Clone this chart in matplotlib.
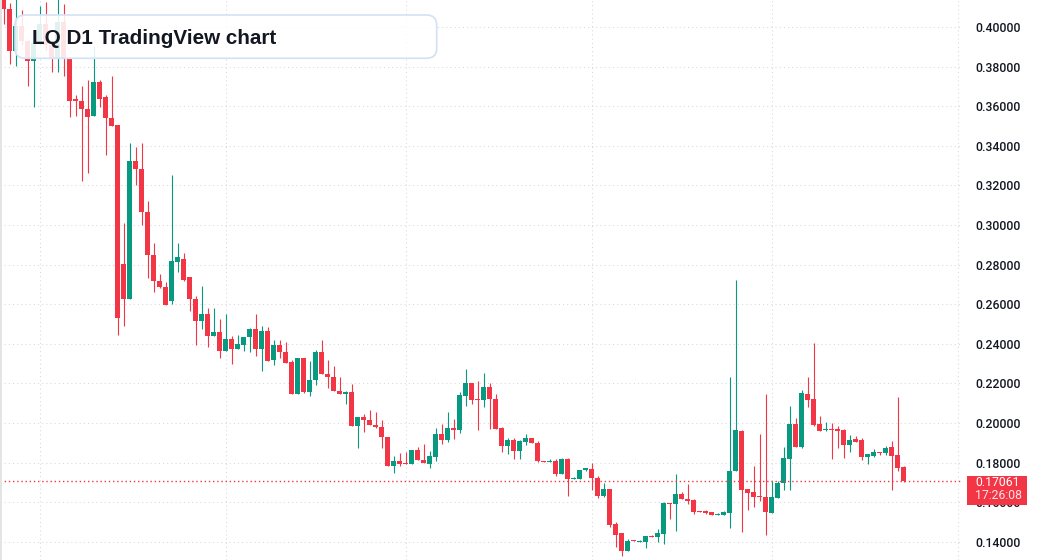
import numpy as np
import matplotlib
matplotlib.use("Agg")
import matplotlib.pyplot as plt
from matplotlib.patches import FancyBboxPatch, Rectangle
from matplotlib.transforms import IdentityTransform

plt.rcParams['font.family'] = ['Liberation Sans', 'DejaVu Sans']

# daily OHLC, oldest first
opens = [0.4160, 0.4090, 0.3880, 0.4005, 0.3930, 0.3829, 0.3917, 0.4015, 0.3909, 0.3843,
         0.4026, 0.3842, 0.3634, 0.3628, 0.3587, 0.3548, 0.3723, 0.3646, 0.3542, 0.3505,
         0.2803, 0.2627, 0.3323, 0.3281, 0.3067, 0.2850, 0.2718, 0.2688, 0.2617, 0.2813,
         0.2828, 0.2737, 0.2626, 0.2516, 0.2550, 0.2440, 0.2459, 0.2365, 0.2424, 0.2375,
         0.2395, 0.2434, 0.2474, 0.2375, 0.2464, 0.2319, 0.2394, 0.2360, 0.2308, 0.2148,
         0.2328, 0.2158, 0.2217, 0.2358, 0.2249, 0.2232, 0.2163, 0.2148, 0.2156, 0.1986,
         0.2031, 0.2016, 0.1991, 0.1981, 0.1930, 0.1784, 0.1808, 0.1794, 0.1790, 0.1865,
         0.1814, 0.1794, 0.1829, 0.1944, 0.1915, 0.1974, 0.1966, 0.2136, 0.2202, 0.2121,
         0.2116, 0.2181, 0.2122, 0.1973, 0.1885, 0.1915, 0.1860, 0.1905, 0.1924, 0.1900,
         0.1809, 0.1804, 0.1809, 0.1744, 0.1819, 0.1718, 0.1718, 0.1764, 0.1769, 0.1723,
         0.1632, 0.1666, 0.1489, 0.1444, 0.1355, 0.1409, 0.1400, 0.1400, 0.1429, 0.1425,
         0.1441, 0.1597, 0.1592, 0.1643, 0.1617, 0.1612, 0.1557, 0.1554, 0.1552, 0.1535,
         0.1535, 0.1545, 0.1757, 0.1959, 0.1666, 0.1651, 0.1631, 0.1626, 0.1545, 0.1621,
         0.1697, 0.1818, 0.1995, 0.1878, 0.2146, 0.2121, 0.1995, 0.1964, 0.1969, 0.1969,
         0.1964, 0.1888, 0.1919, 0.1914, 0.1828, 0.1833, 0.1853, 0.1848, 0.1878, 0.1838,
         0.1777]
highs = [0.4185, 0.4119, 0.4150, 0.4085, 0.3935, 0.3919, 0.4106, 0.4127, 0.3934, 0.4150,
         0.4116, 0.3845, 0.3656, 0.3702, 0.3732, 0.3904, 0.3732, 0.3656, 0.3752, 0.3505,
         0.3011, 0.3412, 0.3392, 0.3412, 0.3121, 0.2907, 0.2752, 0.2712, 0.3252, 0.2907,
         0.2857, 0.2737, 0.2641, 0.2691, 0.2580, 0.2580, 0.2525, 0.2550, 0.2439, 0.2444,
         0.2434, 0.2479, 0.2550, 0.2489, 0.2484, 0.2419, 0.2419, 0.2409, 0.2318, 0.2328,
         0.2328, 0.2313, 0.2368, 0.2419, 0.2318, 0.2287, 0.2232, 0.2159, 0.2198, 0.2031,
         0.2045, 0.2065, 0.2055, 0.2016, 0.1930, 0.1834, 0.1847, 0.1855, 0.1865, 0.1880,
         0.1894, 0.1860, 0.1974, 0.1996, 0.2055, 0.2020, 0.2156, 0.2272, 0.2202, 0.2212,
         0.2252, 0.2202, 0.2146, 0.1978, 0.1925, 0.1925, 0.1915, 0.1944, 0.1924, 0.1910,
         0.1809, 0.1819, 0.1819, 0.1824, 0.1824, 0.1728, 0.1764, 0.1769, 0.1799, 0.1733,
         0.1697, 0.1666, 0.1500, 0.1444, 0.1415, 0.1409, 0.1410, 0.1429, 0.1435, 0.1464,
         0.1601, 0.1597, 0.1742, 0.1653, 0.1691, 0.1617, 0.1557, 0.1560, 0.1552, 0.1545,
         0.1555, 0.2233, 0.2722, 0.1964, 0.1666, 0.1782, 0.1944, 0.2146, 0.1707, 0.1707,
         0.1878, 0.2085, 0.2025, 0.2166, 0.2233, 0.2404, 0.2035, 0.2005, 0.2000, 0.1984,
         0.1969, 0.1939, 0.1934, 0.1924, 0.1843, 0.1868, 0.1853, 0.1883, 0.1909, 0.2131,
         0.1782]
lows = [0.4015, 0.3813, 0.3804, 0.3909, 0.3702, 0.3594, 0.3909, 0.3883, 0.3774, 0.3774,
        0.3752, 0.3547, 0.3550, 0.3223, 0.3264, 0.3548, 0.3596, 0.3353, 0.3500, 0.2444,
        0.2491, 0.2627, 0.3202, 0.3000, 0.2733, 0.2663, 0.2683, 0.2597, 0.2602, 0.2764,
        0.2717, 0.2567, 0.2394, 0.2476, 0.2385, 0.2440, 0.2329, 0.2365, 0.2299, 0.2375,
        0.2365, 0.2360, 0.2339, 0.2264, 0.2314, 0.2294, 0.2329, 0.2304, 0.2148, 0.2148,
        0.2153, 0.2137, 0.2193, 0.2249, 0.2178, 0.2163, 0.2148, 0.2097, 0.1986, 0.1875,
        0.1956, 0.1991, 0.1976, 0.1875, 0.1784, 0.1749, 0.1784, 0.1790, 0.1790, 0.1814,
        0.1799, 0.1774, 0.1809, 0.1895, 0.1905, 0.1920, 0.1951, 0.2085, 0.2096, 0.1965,
        0.2082, 0.1968, 0.1968, 0.1855, 0.1845, 0.1819, 0.1819, 0.1890, 0.1900, 0.1804,
        0.1804, 0.1804, 0.1733, 0.1744, 0.1632, 0.1718, 0.1718, 0.1759, 0.1661, 0.1622,
        0.1627, 0.1476, 0.1375, 0.1329, 0.1355, 0.1404, 0.1400, 0.1370, 0.1424, 0.1400,
        0.1390, 0.1515, 0.1456, 0.1617, 0.1592, 0.1542, 0.1549, 0.1540, 0.1536, 0.1535,
        0.1535, 0.1471, 0.1757, 0.1451, 0.1560, 0.1575, 0.1606, 0.1434, 0.1545, 0.1621,
        0.1661, 0.1661, 0.1878, 0.1873, 0.2080, 0.1984, 0.1959, 0.1959, 0.1818, 0.1873,
        0.1823, 0.1853, 0.1904, 0.1813, 0.1793, 0.1828, 0.1838, 0.1838, 0.1661, 0.1757,
        0.1701]
closes = [0.4089, 0.3880, 0.4005, 0.3930, 0.3829, 0.3917, 0.4015, 0.3909, 0.3843, 0.4026,
          0.3842, 0.3627, 0.3628, 0.3587, 0.3547, 0.3723, 0.3637, 0.3542, 0.3500, 0.2528,
          0.2627, 0.3323, 0.3281, 0.3067, 0.2850, 0.2718, 0.2688, 0.2597, 0.2816, 0.2839,
          0.2722, 0.2627, 0.2516, 0.2550, 0.2440, 0.2459, 0.2365, 0.2424, 0.2375, 0.2399,
          0.2434, 0.2474, 0.2375, 0.2464, 0.2314, 0.2394, 0.2360, 0.2304, 0.2148, 0.2328,
          0.2158, 0.2217, 0.2358, 0.2249, 0.2232, 0.2163, 0.2148, 0.2156, 0.1986, 0.2031,
          0.2016, 0.1991, 0.1981, 0.1930, 0.1784, 0.1808, 0.1794, 0.1790, 0.1865, 0.1814,
          0.1799, 0.1834, 0.1944, 0.1915, 0.1974, 0.1966, 0.2141, 0.2202, 0.2116, 0.2116,
          0.2181, 0.2122, 0.1968, 0.1885, 0.1915, 0.1860, 0.1910, 0.1924, 0.1900, 0.1809,
          0.1804, 0.1809, 0.1744, 0.1819, 0.1718, 0.1723, 0.1764, 0.1769, 0.1723, 0.1632,
          0.1666, 0.1486, 0.1435, 0.1355, 0.1404, 0.1404, 0.1405, 0.1429, 0.1424, 0.1444,
          0.1597, 0.1592, 0.1643, 0.1617, 0.1607, 0.1552, 0.1549, 0.1547, 0.1536, 0.1541,
          0.1550, 0.1757, 0.1964, 0.1661, 0.1646, 0.1626, 0.1626, 0.1550, 0.1626, 0.1697,
          0.1823, 0.1995, 0.1878, 0.2151, 0.2116, 0.1989, 0.1961, 0.1969, 0.1964, 0.1959,
          0.1888, 0.1914, 0.1904, 0.1828, 0.1843, 0.1853, 0.1848, 0.1873, 0.1833, 0.1772,
          0.17061]

price_ticks = [0.14, 0.16, 0.18, 0.20, 0.22, 0.24, 0.26, 0.28, 0.30, 0.32, 0.34, 0.36, 0.38, 0.40]
month_starts = [6, 37, 67, 98, 128, 159]   # vertical grid at month boundaries
last_price = 0.17061
last_time = "17:26:08"
title = "LQ D1 TradingView chart"

up_color = '#089981'
down_color = '#F23645'
grid_color = '#d6d8dd'
scale_font = ['Roboto', 'Liberation Sans', 'DejaVu Sans']

W, H = 1037, 560
fig = plt.figure(figsize=(W / 100, H / 100), dpi=100)
ax = fig.add_axes([0, 0, 962 / W, 1])

x = np.arange(len(closes))
o = np.array(opens)
c = np.array(closes)
colors = [up_color if cc >= oo else down_color for oo, cc in zip(o, c)]

ax.vlines(x, lows, highs, colors=colors, linewidth=0.8, zorder=2)
ax.bar(x, np.maximum(np.abs(c - o), 0.0006), bottom=np.minimum(o, c), width=0.78,
       color=colors, linewidth=0, zorder=3)

ax.set_xlim(-0.62, 159.7)
ax.set_ylim(0.13076, 0.41359)

ax.set_xticks(month_starts)
ax.set_yticks(price_ticks)
ax.grid(True, color=grid_color, linestyle=(0, (1, 3)), linewidth=0.75, zorder=0)
ax.set_axisbelow(True)
ax.yaxis.tick_right()
ax.yaxis.set_major_formatter(matplotlib.ticker.FormatStrFormatter('%.5f'))
ax.tick_params(axis='y', length=0, pad=9.4, labelsize=8.8, labelcolor='#131722')
ax.tick_params(axis='x', length=0, labelbottom=False)
for lab in ax.get_yticklabels():
    lab.set_family(scale_font)
    lab.set_weight('medium')
for s in ax.spines.values():
    s.set_visible(False)

# last price line
ax.axhline(last_price, color=down_color, linestyle=(0, (1, 2)), linewidth=1.0,
           zorder=4, snap=True)

# last price label on the price scale
y_disp = ax.transData.transform((0, last_price))[1]
fig.add_artist(Rectangle((966.7, y_disp - 24), 60, 29, transform=IdentityTransform(),
                         facecolor=down_color, edgecolor='none', zorder=5))
fig.text(975 / W, (y_disp - 1.5) / H, f"{last_price:.5f}", color='white', fontsize=8.8,
         family=scale_font, va='center', ha='left', zorder=6)
fig.text(975 / W, (y_disp - 14.5) / H, last_time, color='#fde3e5', fontsize=8.8,
         family=scale_font, va='center', ha='left', zorder=6)

# left border strip
fig.add_artist(Rectangle((0, 0), 1.7, H, transform=IdentityTransform(),
                         facecolor='#e4e4e4', edgecolor='none', zorder=5))

# title box
fig.add_artist(FancyBboxPatch((15, H - 58.3), 421.7, 43.3,
                              boxstyle='round,pad=0,rounding_size=10',
                              transform=IdentityTransform(),
                              facecolor=(1, 1, 1, 0.88), edgecolor='#d3e1f5',
                              linewidth=1.2, zorder=5))
fig.text(32.3 / W, 1 - 44.3 / H, title, fontsize=14.9, fontweight='bold',
         color='#131722', va='baseline', ha='left', zorder=6)

fig.savefig('out.png', dpi=100, facecolor='white')
